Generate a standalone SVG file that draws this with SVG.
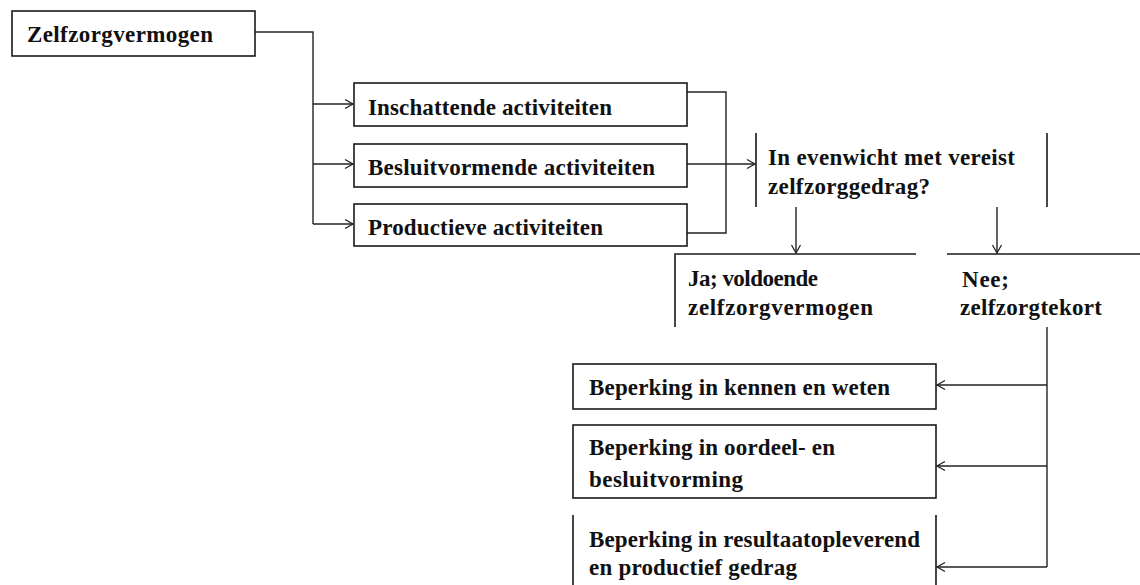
<svg xmlns="http://www.w3.org/2000/svg" width="1140" height="585" viewBox="0 0 1140 585">
<style>
.box{fill:#fff;stroke:#1a1a1a;stroke-width:1.6}
.edge{fill:none;stroke:#1a1a1a;stroke-width:1.6}
.conn{fill:none;stroke:#222;stroke-width:1.4}
text{font-family:"Liberation Serif","Times New Roman",serif;font-size:23px;font-weight:bold;fill:#111}
</style>
<defs>
<marker id="arr" markerUnits="userSpaceOnUse" markerWidth="12" markerHeight="12" viewBox="0 0 12 12" refX="10" refY="6" orient="auto">
<path d="M2,1.5 L10,6 L2,10.5" fill="none" stroke="#222" stroke-width="1.3"/>
</marker>
</defs>
<rect width="1140" height="585" fill="#fff"/>
<g id="connectors">
<path class="conn" d="M255,32 H313 V224"/>
<path class="conn" d="M313,104 H353" marker-end="url(#arr)"/>
<path class="conn" d="M313,164 H353" marker-end="url(#arr)"/>
<path class="conn" d="M313,224 H353" marker-end="url(#arr)"/>
<path class="conn" d="M687,92 H726 V233 H687"/>
<path class="conn" d="M687,164 H755" marker-end="url(#arr)"/>
<path class="conn" d="M796,207 V253" marker-end="url(#arr)"/>
<path class="conn" d="M997,207 V253" marker-end="url(#arr)"/>
<path class="conn" d="M1047,327 V567"/>
<path class="conn" d="M1047,385 H937" marker-end="url(#arr)"/>
<path class="conn" d="M1047,466 H937" marker-end="url(#arr)"/>
<path class="conn" d="M1047,567 H937" marker-end="url(#arr)"/>
</g>
<g id="zelfzorgvermogen">
<rect class="box" x="12" y="11" width="243" height="45"/>
<text x="27" y="42" textLength="186">Zelfzorgvermogen</text>
</g>
<g id="inschattende">
<rect class="box" x="354" y="83" width="333" height="43"/>
<text x="368" y="115" textLength="244">Inschattende activiteiten</text>
</g>
<g id="besluitvormende">
<rect class="box" x="354" y="144" width="333" height="43"/>
<text x="368" y="175" textLength="287">Besluitvormende activiteiten</text>
</g>
<g id="productieve">
<rect class="box" x="354" y="204" width="333" height="42"/>
<text x="368" y="235" textLength="235">Productieve activiteiten</text>
</g>
<g id="evenwicht">
<path class="edge" d="M756,133 V207 M1047,133 V207"/>
<text x="768" y="165" textLength="247">In evenwicht met vereist</text>
<text x="768" y="194" textLength="162">zelfzorggedrag?</text>
</g>
<g id="ja">
<path class="edge" d="M675,327 V254 H916"/>
<text x="688" y="286" textLength="130">Ja; voldoende</text>
<text x="688" y="315" textLength="185">zelfzorgvermogen</text>
</g>
<g id="nee">
<path class="edge" d="M947,254 H1140"/>
<text x="962" y="287" textLength="47">Nee;</text>
<text x="960" y="315" textLength="142">zelfzorgtekort</text>
</g>
<g id="kennen">
<rect class="box" x="573" y="364" width="363" height="45"/>
<text x="589" y="395" textLength="301">Beperking in kennen en weten</text>
</g>
<g id="oordeel">
<rect class="box" x="573" y="425" width="363" height="73"/>
<text x="589" y="455" textLength="246">Beperking in oordeel- en</text>
<text x="589" y="487" textLength="154">besluitvorming</text>
</g>
<g id="resultaat">
<path class="edge" d="M573,515 V585 M936,515 V585"/>
<text x="589" y="547" textLength="331">Beperking in resultaatopleverend</text>
<text x="589" y="575" textLength="208">en productief gedrag</text>
</g>
</svg>
